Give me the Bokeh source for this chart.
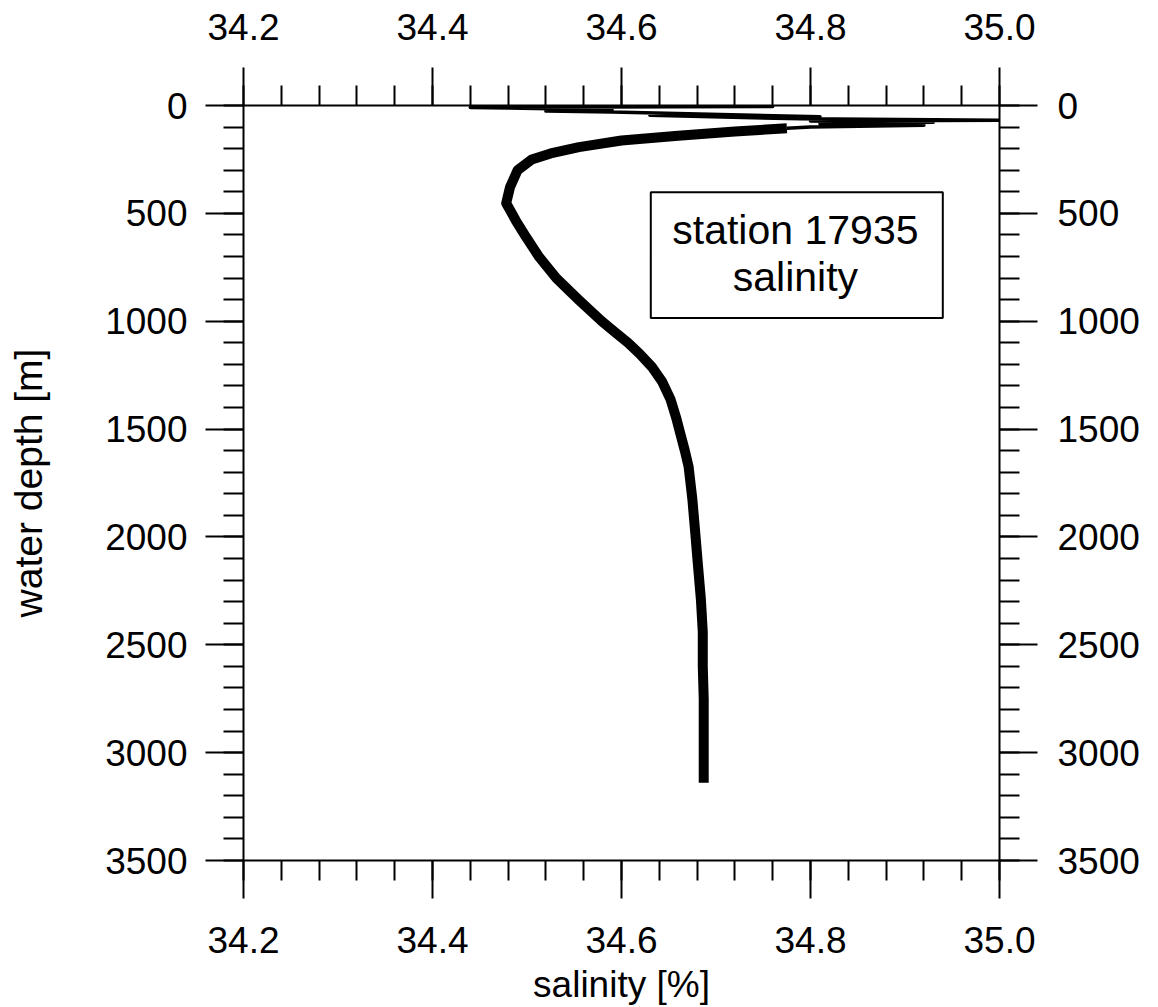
from bokeh.plotting import figure
from bokeh.models import Range1d, LinearAxis, FixedTicker, PrintfTickFormatter
from bokeh.core.properties import value
from bokeh.embed import file_html
from bokeh.resources import INLINE

# ---------------- data ----------------
depth_m = [0, 5, 9, 14, 20, 26, 30, 52, 45, 62, 68, 72, 78, 85, 92, 100, 106,
           120, 140, 162, 193, 222, 250, 300, 379, 453, 532, 610, 703, 800,
           902, 1000, 1054, 1100, 1150, 1211, 1280, 1364, 1450, 1517, 1600,
           1674, 1750, 1826, 1979, 2136, 2289, 2441, 2599, 2751, 2900, 3050,
           3140]
salinity = [34.55, 34.76, 34.44, 34.51, 34.59, 34.52, 34.59, 34.81, 34.63,
            34.79, 35.00, 34.80, 34.93, 34.81, 34.92, 34.80, 34.775,
            34.72, 34.66, 34.60, 34.555, 34.525, 34.505, 34.490, 34.482,
            34.478, 34.488, 34.499, 34.513, 34.531, 34.555, 34.579, 34.594,
            34.607, 34.619, 34.632, 34.643, 34.652, 34.658, 34.662, 34.667,
            34.671, 34.673, 34.675, 34.678, 34.681, 34.684, 34.686, 34.686,
            34.687, 34.687, 34.687, 34.687]

x_major = [34.2, 34.4, 34.6, 34.8, 35.0]
y_major = [0, 500, 1000, 1500, 2000, 2500, 3000, 3500]

box_label = ["station 17935", "salinity"]
x_title = "salinity [%]"
y_title = "water depth [m]"

FONT = "Liberation Sans"

x_minor = [round(34.2 + 0.04 * i, 2) for i in range(21)]
y_minor = [100 * i for i in range(36)]

p = figure(width=1158, height=1007, output_backend="svg", toolbar_location=None,
           x_range=Range1d(34.2, 35.0), y_range=Range1d(3500, 0),
           x_axis_location=None, y_axis_location=None,
           min_border_left=243, min_border_right=159,
           min_border_top=105, min_border_bottom=145)
p.outline_line_color = None
p.grid.visible = False
p.background_fill_color = "white"
p.border_fill_color = "white"


def style(ax):
    ax.major_tick_out = 38
    ax.major_tick_in = 0
    ax.minor_tick_out = 20
    ax.minor_tick_in = 0
    ax.axis_line_width = 2
    ax.axis_line_color = "black"
    ax.major_tick_line_width = 2
    ax.minor_tick_line_width = 2
    ax.major_tick_line_color = "black"
    ax.minor_tick_line_color = "black"
    ax.major_label_text_font = FONT
    ax.major_label_text_font_size = "37px"
    ax.major_label_text_color = "black"
    ax.axis_label_text_font = FONT
    ax.axis_label_text_font_style = "normal"
    ax.axis_label_text_color = "black"
    return ax


bottom = style(LinearAxis(ticker=FixedTicker(ticks=x_major, minor_ticks=x_minor),
                          formatter=PrintfTickFormatter(format="%.1f")))
bottom.major_label_standoff = 28
bottom.axis_label = x_title
bottom.axis_label_text_font_size = "37px"
bottom.axis_label_standoff = 8
p.add_layout(bottom, "below")

top = style(LinearAxis(ticker=FixedTicker(ticks=x_major, minor_ticks=x_minor),
                       formatter=PrintfTickFormatter(format="%.1f")))
top.major_label_standoff = 28
p.add_layout(top, "above")

left = style(LinearAxis(ticker=FixedTicker(ticks=y_major, minor_ticks=y_minor)))
left.major_label_standoff = 18
left.axis_label = y_title
left.axis_label_text_font_size = "39px"
left.axis_label_standoff = 52
p.add_layout(left, "left")

right = style(LinearAxis(ticker=FixedTicker(ticks=y_major, minor_ticks=y_minor)))
right.major_label_standoff = 20
p.add_layout(right, "right")

# profile: thin near-surface part, thicker (noisy-looking) deeper part
k = depth_m.index(106)
p.line(salinity[:k + 1], depth_m[:k + 1], line_color="black", line_width=3.5,
       line_join="round")
p.line(salinity[k:], depth_m[k:], line_color="black", line_width=10,
       line_join="round", line_cap="butt")

# label box
p.quad(left=[34.631], right=[34.940], top=[402], bottom=[985],
       fill_color="white", line_color="black", line_width=2)
p.text(x=[34.784, 34.784], y=[578, 795], text=box_label,
       text_align="center", text_baseline="middle",
       text_font=value(FONT), text_font_size="41px", text_color="black")

open("out.html", "w").write(file_html(p, INLINE))
